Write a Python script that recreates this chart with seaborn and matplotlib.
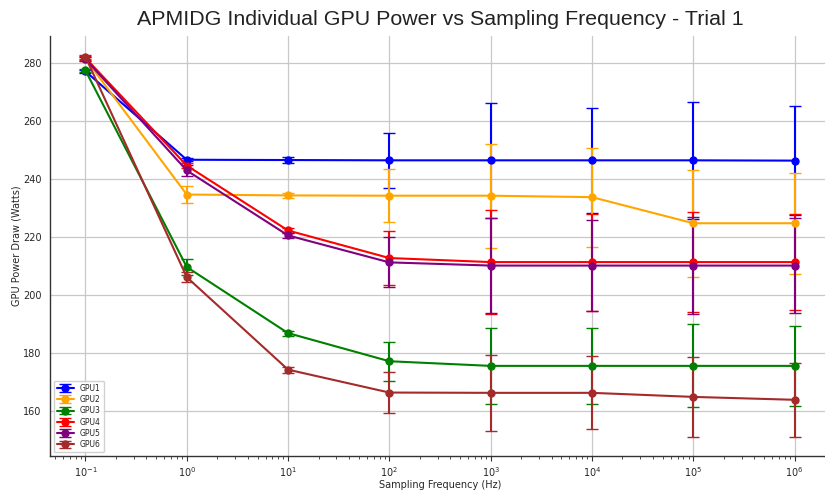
import numpy as np
import pandas as pd
import seaborn as sns
import matplotlib
matplotlib.use("Agg")
import matplotlib.pyplot as plt

# sampling frequencies (Hz)
freqs = [0.1, 1, 10, 100, 1000, 10000, 100000, 1000000]

gpu_names = ['GPU1', 'GPU2', 'GPU3', 'GPU4', 'GPU5', 'GPU6']
gpu_colors = ['blue', 'orange', 'green', 'red', 'purple', 'brown']

# mean power draw (W) per frequency
gpu1_mean = [277.3, 246.8, 246.7, 246.6, 246.6, 246.6, 246.6, 246.5]
gpu2_mean = [281.6, 234.8, 234.5, 234.4, 234.4, 233.9, 224.9, 224.9]
gpu3_mean = [277.6, 209.8, 187.0, 177.3, 175.7, 175.7, 175.7, 175.7]
gpu4_mean = [281.9, 244.8, 222.4, 212.9, 211.5, 211.5, 211.5, 211.5]
gpu5_mean = [281.5, 243.1, 220.7, 211.4, 210.3, 210.3, 210.3, 210.3]
gpu6_mean = [282.3, 206.3, 174.4, 166.5, 166.4, 166.4, 165.0, 164.0]

# standard deviation (W) per frequency
gpu1_std = [0.6, 0.6, 1.0, 9.5, 19.8, 18.1, 20.1, 18.9]
gpu2_std = [0.6, 2.8, 0.9, 9.1, 17.9, 17.1, 18.4, 17.4]
gpu3_std = [0.6, 2.9, 0.9, 6.8, 13.2, 13.2, 14.3, 13.8]
gpu4_std = [0.6, 1.0, 1.0, 9.3, 17.8, 16.7, 17.3, 16.5]
gpu5_std = [0.6, 2.0, 1.0, 8.6, 16.4, 15.6, 16.8, 16.5]
gpu6_std = [0.6, 1.8, 1.0, 7.1, 13.2, 12.6, 13.8, 12.8]

means = [gpu1_mean, gpu2_mean, gpu3_mean, gpu4_mean, gpu5_mean, gpu6_mean]
stds = [gpu1_std, gpu2_std, gpu3_std, gpu4_std, gpu5_std, gpu6_std]

sns.set_theme(style="whitegrid")
plt.rcParams['font.family'] = ['DejaVu Sans']

fig = plt.figure(figsize=(8.25, 4.91), dpi=100)
ax = fig.add_axes([50 / 825, 35 / 491, 780 / 825, 420 / 491])

for name, color, m, s in zip(gpu_names, gpu_colors, means, stds):
    df = pd.DataFrame({'freq': freqs, 'power': m, 'std': s})
    ax.errorbar(df['freq'], df['power'], yerr=df['std'], color=color, label=name,
                marker='o', markersize=5, linewidth=1.5, capsize=4, elinewidth=1.5)

ax.set_xscale('log')
xlim = ax.get_xlim()
ax.set_xticks(freqs)
ax.set_xlim(xlim)
ax.set_yticks([160, 180, 200, 220, 240, 260, 280])
ax.grid(True, which='major', color='#c8c8c8', linewidth=0.9)
ax.grid(False, which='minor')
sns.despine(ax=ax)
for side in ['left', 'bottom']:
    ax.spines[side].set_color('#333333')
    ax.spines[side].set_linewidth(1.0)
ax.tick_params(axis='x', which='major', length=3.5, width=0.8, color='#333333',
               labelsize=7, bottom=True, pad=3)
ax.tick_params(axis='x', which='minor', length=2, width=0.6, color='#333333', bottom=True,
               labelbottom=False)
ax.tick_params(axis='y', length=0, labelsize=7, pad=6)

ax.set_xlabel('Sampling Frequency (Hz)', fontsize=7, labelpad=1)
ax.set_ylabel('GPU Power Draw (Watts)', fontsize=7, labelpad=1)
ax.set_title('APMIDG Individual GPU Power vs Sampling Frequency - Trial 1',
             fontsize=15.4, family='Liberation Sans', pad=8, color='#222222')

ax.legend(loc='lower left', fontsize=5.5, frameon=True, borderpad=0.4,
          labelspacing=0.3, handlelength=2.2, framealpha=0.9)

fig.savefig('out.png', dpi=100)
